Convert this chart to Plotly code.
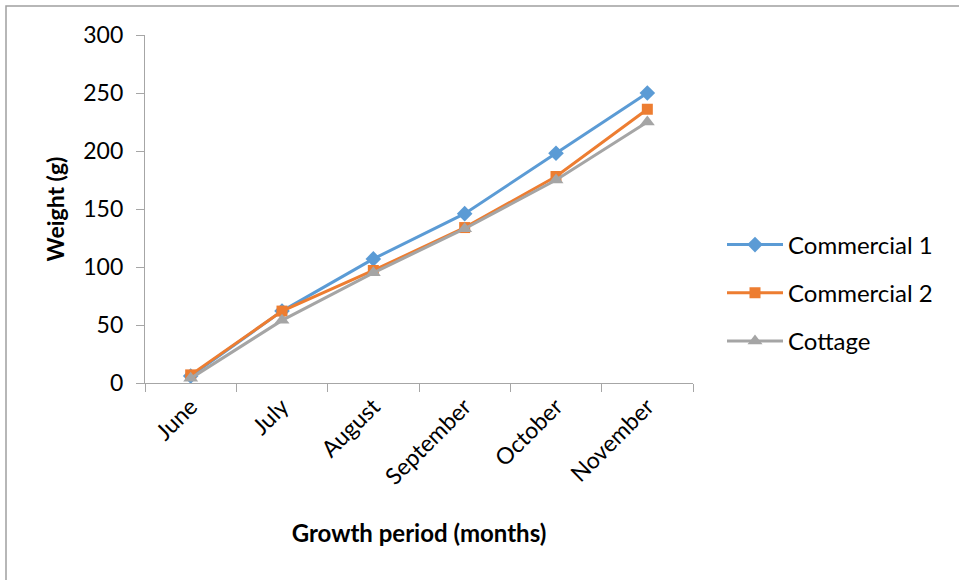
import plotly.graph_objects as go

months = ["June", "July", "August", "September", "October", "November"]
commercial_1 = [6, 62, 107, 146, 198, 250]
commercial_2 = [7, 62, 97, 134, 178, 236]
cottage = [4, 54, 95, 133, 175, 225]

series = [
    ("Commercial 1", commercial_1, "#5B9BD5", "diamond", 12),
    ("Commercial 2", commercial_2, "#ED7D31", "square", 11),
    ("Cottage", cottage, "#A5A5A5", "triangle-up", 13),
]

FONT = "Lato, Open Sans, sans-serif"

fig = go.Figure()
for name, vals, color, symbol, size in series:
    fig.add_trace(go.Scatter(
        x=months, y=vals, name=name, legendgroup=name,
        mode="lines+markers",
        line=dict(color=color, width=3),
        marker=dict(symbol=symbol, size=size, color=color),
    ))

W, H = 959, 580
L, R, T, B = 145, 266, 35, 197
pw, ph = W - L - R, H - T - B

fig.update_layout(
    width=W, height=H,
    margin=dict(l=L, r=R, t=T, b=B, autoexpand=False),
    paper_bgcolor="white", plot_bgcolor="white",
    font=dict(family=FONT, size=24, color="#000000"),
    showlegend=True,
    legend=dict(
        x=(722 - L) / pw, xanchor="left",
        y=(H - B - 293) / ph, yanchor="middle",
        font=dict(family=FONT, size=24, color="#000000"),
        tracegroupgap=14, itemwidth=56,
        bgcolor="rgba(0,0,0,0)",
    ),
    xaxis=dict(
        title=dict(text="<b>Growth period (months)</b>", font=dict(size=24), standoff=36),
        range=[-0.5, 5.5],
        showline=True, linecolor="#A6A6A6", linewidth=1.3,
        ticks="outside", tickson="boundaries", ticklen=8, tickcolor="#A6A6A6",
        tickangle=-45, tickfont=dict(size=23),
        showgrid=False, zeroline=False,
    ),
    yaxis=dict(
        title=dict(text="<b>Weight (g)</b>", font=dict(size=23), standoff=12),
        range=[0, 300], dtick=50,
        showline=True, linecolor="#A6A6A6", linewidth=1.3,
        ticks="outside", ticklen=8, tickcolor="#A6A6A6",
        tickfont=dict(size=23), ticklabelstandoff=8,
        showgrid=False, zeroline=False,
    ),
    shapes=[dict(
        type="rect", xref="paper", yref="paper",
        x0=(6 - L) / pw, x1=(W + 20 - L) / pw,
        y0=(H - B - (H + 20)) / ph, y1=(H - B - 6) / ph,
        line=dict(color="#A0A0A0", width=1.5), layer="below",
    )],
)

fig.write_html("out.html")
